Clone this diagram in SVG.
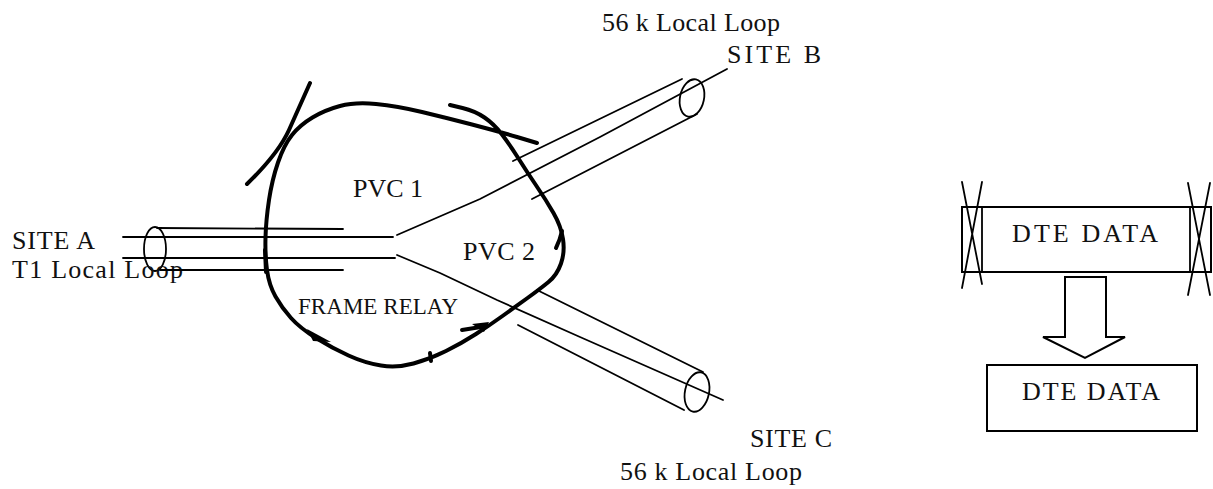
<svg xmlns="http://www.w3.org/2000/svg" width="1213" height="489" viewBox="0 0 1213 489">
<style>
.t{font-family:"Liberation Serif","Times New Roman",serif;font-size:26px;fill:#111}
.thin{fill:none;stroke:#000;stroke-width:1.8;stroke-linecap:round}
.thick{fill:none;stroke:#000;stroke-width:4;stroke-linecap:round;stroke-linejoin:round}
.box{fill:#fff;stroke:#000;stroke-width:2}
</style>
<rect width="1213" height="489" fill="#fff"/>
<g id="cloud">
<path class="thick" d="M537,143 L517,137 Q497,131 472,124.5 Q447,118 422,112 Q397,106 376,104 Q355,102 340,106 Q325,110 312.5,117.5 Q300,125 292,135 Q284,145 278,162.5 Q272,180 269,200 Q266,220 265.5,237.5 Q265,255 267,270 Q269,285 275.5,296.5 Q282,308 291,318 Q300,328 316,338 Q332,348 348.5,355.5 Q365,363 381,365.5 Q397,368 413.5,363.5 Q430,359 446,351 Q462,343 476,334 Q490,325 502.5,316 Q515,307 527.5,298 Q540,289 548.5,282 Q557,275 561,263.5 Q565,252 563,239 Q561,226 553.5,213 Q546,200 536.5,186 Q527,172 518.5,158.5 Q510,145 502,134.5 Q494,124 484.5,117.5 Q475,111 462.5,108 L450,105"/>
<path class="thick" d="M247,184 Q278,154 289,130 L310,83"/>
<path class="thick" stroke-width="3" d="M556,248 Q560,240 562,231"/>
<path class="thick" stroke-width="6" d="M265,250 L266,272"/>
<polygon points="307,329 331,342 313,341" fill="#000"/>
<path class="thick" d="M462,330 L487,326"/>
<polygon points="472,324 489,322 484,332" fill="#000"/>
<path class="thick" stroke-width="2.5" d="M430,353 L431,361"/>
<text class="t" x="353" y="197" textLength="70">PVC 1</text>
<text class="t" x="463" y="260" textLength="72">PVC 2</text>
<text class="t" x="298" y="314" textLength="160" style="font-size:23px">FRAME RELAY</text>
</g>
<g id="site-a">
<ellipse cx="155" cy="249" rx="11" ry="22" class="thin"/>
<text class="t" x="12" y="249" textLength="83">SITE A</text>
<text class="t" x="12" y="278" textLength="171">T1 Local Loop</text>
</g>
<g id="site-b">
<ellipse cx="692" cy="98" rx="12" ry="19" transform="rotate(12 692 98)" class="thin"/>
<text class="t" x="602" y="31" textLength="178">56 k Local Loop</text>
<text class="t" x="727" y="63" textLength="94">SITE B</text>
</g>
<g id="site-c">
<ellipse cx="697" cy="392" rx="12" ry="20" transform="rotate(12 697 392)" class="thin"/>
<text class="t" x="750" y="447" textLength="82">SITE C</text>
<text class="t" x="620" y="480" textLength="182">56 k Local Loop</text>
</g>
<g id="connectors">
<path class="thin" d="M157,228 L343,229"/>
<path class="thin" d="M123,237 L393,237"/>
<path class="thin" d="M123,258 L395,258"/>
<path class="thin" d="M160,270 L343,270"/>
<path class="thin" d="M397,235 L480,199 L600,137 L727,69"/>
<path class="thin" d="M513,161 L682,79"/>
<path class="thin" d="M532,199 L697,114"/>
<path class="thin" d="M397,255 L440,273 L497,300 L580,337 L723,400"/>
<path class="thin" d="M537,290 L703,372"/>
<path class="thin" d="M518,325 L684,410"/>
</g>
<g id="dte-frame">
<rect x="962" y="207" width="249" height="65" class="box"/>
<path class="thin" d="M982,207 V272 M1190,207 V272"/>
<path class="thin" d="M962,182 L982,284 M982,182 L962,288 M1188,183 L1210,295 M1210,183 L1188,295"/>
<text class="t" x="1012" y="242" textLength="146">DTE DATA</text>
</g>
<g id="arrow">
<polygon class="box" points="1065,277 1106,277 1106,337 1125,337 1085,358 1043,337 1065,337"/>
</g>
<g id="dte-data">
<rect x="987" y="365" width="210" height="66" class="box"/>
<text class="t" x="1022" y="400" textLength="138">DTE DATA</text>
</g>
</svg>
